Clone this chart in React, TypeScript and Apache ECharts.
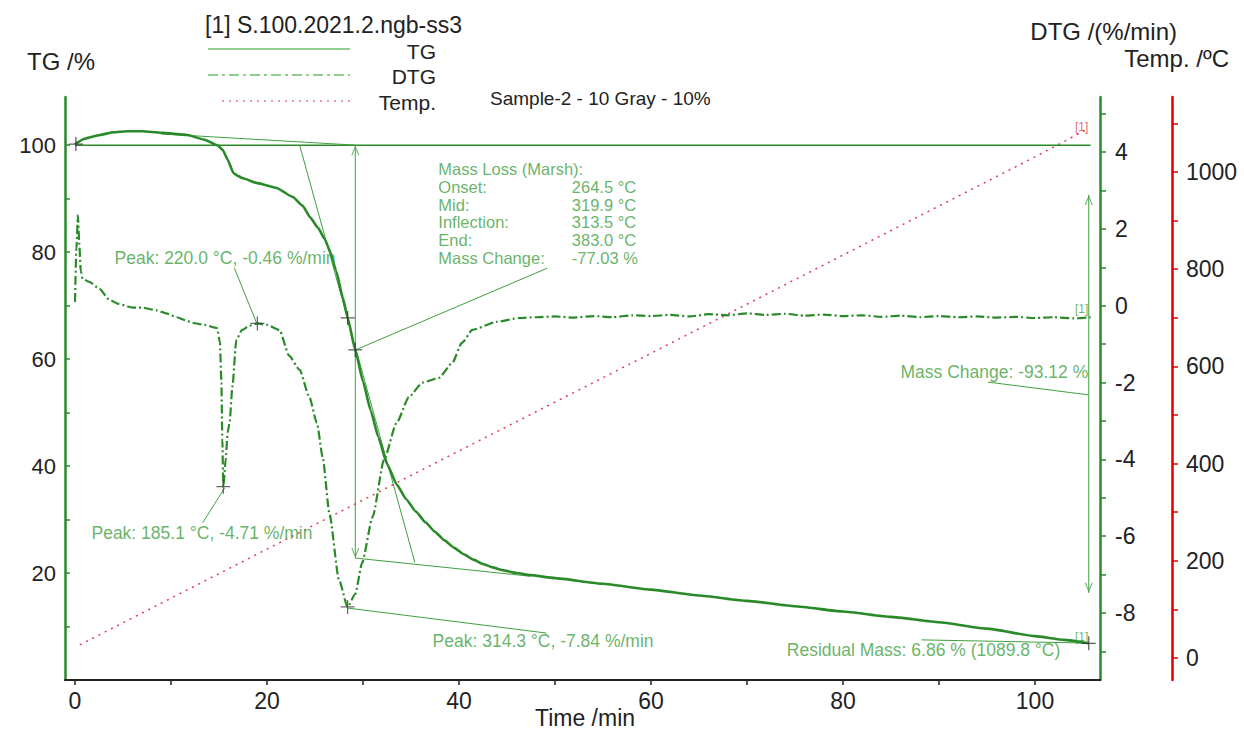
import React, { useEffect, useRef } from "react";
import * as echarts from "echarts";

// ---------------- data ----------------
const tgTime = [0, 1, 2.6, 4, 5.4, 7, 9, 11.7, 13.5, 14.8, 15.4, 15.9, 16.5, 17.0, 17.5, 19.0, 21.0, 22.7, 23.7, 24.5, 25.3, 26.0, 26.6, 27.2, 27.9, 28.4, 29.2, 30.0, 30.8, 31.6, 32.5, 33.5, 34.5, 35.5, 36.5, 37.5, 38.5, 39.5, 40.5, 41.5, 42.5, 43.5, 44.5, 46, 47.4, 50, 55, 60, 65, 70, 75, 80, 85, 90, 95, 100, 103, 105.6];
const tgValues = [100.2, 101.2, 101.9, 102.4, 102.6, 102.6, 102.3, 101.9, 101.0, 100.0, 99.1, 97.3, 94.8, 94.2, 93.8, 92.9, 92.0, 90.3, 88.7, 86.5, 84.6, 82.5, 80.0, 76.5, 71.5, 67.7, 61.7, 55.8, 50.4, 45.4, 40.4, 36.6, 33.8, 31.5, 29.5, 27.7, 26.1, 24.7, 23.5, 22.5, 21.7, 21.05, 20.55, 20.0, 19.6, 19.05, 18.0, 16.9, 15.8, 14.8, 13.8, 12.8, 11.8, 10.8, 9.6, 8.2, 7.5, 6.86];

const dtgTime = [0, 0.15, 0.3, 0.45, 0.6, 0.8, 1.5, 2.5, 3.6, 4.5, 6.0, 7.0, 8.5, 9.5, 10.6, 11.5, 12.3, 13.5, 14.8, 15.1, 15.25, 15.35, 15.45, 15.7, 15.9, 16.1, 16.4, 16.8, 17.4, 18.2, 19.0, 20.0, 21.3, 22.3, 23.4, 24.4, 25.2, 25.8, 26.5, 27.5, 28.4, 29.2, 29.9, 31.0, 32.2, 33.5, 34.8, 36.2, 37.9, 39.3, 40.3, 41.4, 43.9, 46.3, 48, 50, 52, 54, 56, 58, 60, 62, 64, 66, 68, 70, 72, 74, 76, 78, 80, 82, 84, 86, 88, 90, 92, 94, 96, 98, 100, 102, 104, 105.8];
const dtgValues = [0.1, 1.5, 2.35, 1.6, 0.9, 0.7, 0.62, 0.45, 0.15, 0.05, -0.05, -0.05, -0.12, -0.2, -0.3, -0.38, -0.45, -0.5, -0.58, -0.95, -2.0, -3.5, -4.71, -4.0, -3.3, -3.05, -2.1, -0.9, -0.63, -0.52, -0.46, -0.5, -0.63, -1.3, -1.67, -2.37, -3.05, -3.94, -5.4, -7.14, -7.84, -7.5, -6.7, -5.5, -4.0, -3.05, -2.37, -2.0, -1.88, -1.49, -0.97, -0.63, -0.42, -0.32, -0.3, -0.28, -0.31, -0.27, -0.3, -0.25, -0.27, -0.24, -0.28, -0.22, -0.25, -0.2, -0.24, -0.21, -0.26, -0.23, -0.27, -0.25, -0.29, -0.26, -0.3, -0.27, -0.3, -0.28, -0.31, -0.29, -0.32, -0.3, -0.33, -0.3];

const tempTime = [0.5, 20, 40, 60, 80, 100, 105.6];
const tempValues = [27, 224, 426, 627, 829, 1031, 1089.8];

// tick positions / labels
const xTicks = [0, 10, 20, 30, 40, 50, 60, 70, 80, 90, 100];
const xLabels = [0, 20, 40, 60, 80, 100];
const tgTicks = [10, 20, 30, 40, 50, 60, 70, 80, 90, 100];
const tgLabels = [20, 40, 60, 80, 100];
const dtgTicks = [-9, -8, -7, -6, -5, -4, -3, -2, -1, 0, 1, 2, 3, 4, 5];
const dtgLabels = [-8, -6, -4, -2, 0, 2, 4];
const tempTicks = [0, 100, 200, 300, 400, 500, 600, 700, 800, 900, 1000, 1100];
const tempLabels = [0, 200, 400, 600, 800, 1000];

// evaluation annotations (data coordinates)
const tgRefLine = [[0, 100], [105.8, 100]];
const onsetBaseLine = [[9, 102.1], [29.2, 100]];
const inflectionTangent = [[23.4, 100], [35.4, 22.0]];
const endBaseLine = [[29.2, 22.8], [47.4, 19.4]];
const massArrow1 = [[29.2, 100], [29.2, 22.8]];
const massLeader1 = [[29.2, 61.7], [49.2, 77.0]];
const massArrow2 = [[105.6, 90.7], [105.6, 16.3]];
const massLeader2 = [[95.1, 55.7], [105.6, 53.3]];
const residualLine = [[88.2, 7.5], [105.6, 6.9]];
const peakLeader220 = [[16.6, 0.98], [19.0, -0.5]];
const peakLeader185 = [[13.3, -5.65], [15.6, -4.74]];
const peakLeader314 = [[28.4, -7.87], [49.1, -8.52]];
const tgCrosses = [[0.1, 100.2], [28.4, 67.7], [29.2, 61.7], [105.6, 6.86]];
const dtgCrosses = [[15.45, -4.71], [19.0, -0.46], [28.4, -7.84]];

const marshLabels = ["Mass Loss (Marsh):", "Onset:", "Mid:", "Inflection:", "End:", "Mass Change:"];
const marshValues = ["", "264.5 °C", "319.9 °C", "313.5 °C", "383.0 °C", "-77.03 %"];
const marshRowsTG = [95.5, 92.15, 88.8, 85.45, 82.1, 78.75];

// ---------------- styling ----------------
const FONT = "'Liberation Sans', Arial, sans-serif";
const GREEN = "#2a8a2a";
const ANNO = "#3f9f3f";
const AXIS_TXT = "#222";
const VPATH = "path://M0,0 L5,10 L10,0 L8.6,0 L5,7.4 L1.4,0 Z";
const PLUS = "path://M4.55,0 H5.45 V10 H4.55 Z M0,4.55 H10 V5.45 H0 Z";

const zip = (a: number[], b: number[]) => a.map((v, i) => [v, b[i]]);
const plain = (v: number) => String(v);

const seg = (pts: number[][], yIdx: number, color = ANNO, width = 1) => ({
  type: "line",
  xAxisIndex: 0,
  yAxisIndex: yIdx,
  data: pts,
  symbol: "none",
  showSymbol: false,
  silent: true,
  lineStyle: { color, width },
  z: 4,
});

const txt = (text: string, x: number, y: number, align = "left", size = 17.5, color = ANNO) => ({
  value: [x, y],
  label: {
    show: true,
    formatter: text,
    position: [0, 0],
    align,
    verticalAlign: "middle",
    fontSize: size,
    fontFamily: FONT,
    color,
  },
});

const textSeries = (yIdx: number, data: any[]) => ({
  type: "scatter",
  xAxisIndex: 0,
  yAxisIndex: yIdx,
  symbol: "circle",
  symbolSize: 1,
  itemStyle: { color: "rgba(0,0,0,0)" },
  silent: true,
  z: 6,
  data,
});

export default function App() {
  const ref = useRef<HTMLDivElement>(null);

  useEffect(() => {
    if (!ref.current) return;
    const chart = echarts.init(ref.current, undefined, { renderer: "svg" });

    const tgTextData = [
      ...marshLabels.map((l, i) => txt(l, 37.9, marshRowsTG[i], "left", 16.5)),
      ...marshValues.filter((v) => v).map((v, i) => txt(v, 51.8, marshRowsTG[i + 1], "left", 16.5)),
      txt("Residual Mass: 6.86 % (1089.8 °C)", 74.2, 5.6),
      txt("Mass Change: -93.12 %", 105.6, 57.4, "right"),
      txt("[1]", 104.9, 8.0, "center", 12),
    ];
    const dtgTextData = [
      txt("Peak: 220.0 °C, -0.46 %/min", 4.17, 1.24),
      txt("Peak: 185.1 °C, -4.71 %/min", 1.77, -5.92),
      txt("Peak: 314.3 °C, -7.84 %/min", 37.3, -8.73),
      txt("[1]", 104.9, -0.11, "center", 12),
    ];
    const tempTextData = [txt("[1]", 104.9, 1092, "center", 12, "#e04050")];

    const arrowData = [
      { value: massArrow1[0], symbolRotate: 180, symbolOffset: [0, "50%"] },
      { value: massArrow1[1], symbolRotate: 0, symbolOffset: [0, "-50%"] },
      { value: massArrow2[0], symbolRotate: 180, symbolOffset: [0, "50%"] },
      { value: massArrow2[1], symbolRotate: 0, symbolOffset: [0, "-50%"] },
    ];

    const option: any = {
      animation: false,
      backgroundColor: "#ffffff",
      grid: { left: 65, right: 144, top: 97, bottom: 52, containLabel: false },
      xAxis: {
        type: "value",
        min: -1.04,
        max: 106.77,
        axisLine: { show: true, onZero: false, lineStyle: { color: "#222", width: 2 } },
        axisTick: { show: true, customValues: xTicks, length: 5, lineStyle: { color: "#222", width: 1.5 } },
        axisLabel: { customValues: xLabels, formatter: plain, fontSize: 23, color: AXIS_TXT, fontFamily: FONT, margin: 9 },
        splitLine: { show: false },
      },
      yAxis: [
        {
          type: "value",
          position: "left",
          min: 0,
          max: 109,
          axisLine: { show: true, onZero: false, lineStyle: { color: GREEN, width: 2.5 } },
          axisTick: { show: true, inside: true, customValues: tgTicks, length: 5, lineStyle: { color: GREEN, width: 1.5 } },
          axisLabel: { customValues: tgLabels, formatter: plain, fontSize: 22, color: AXIS_TXT, fontFamily: FONT, margin: 9 },
          splitLine: { show: false },
        },
        {
          type: "value",
          position: "right",
          min: -9.742,
          max: 5.432,
          axisLine: { show: true, onZero: false, lineStyle: { color: GREEN, width: 2.5 } },
          axisTick: { show: true, customValues: dtgTicks, length: 6, lineStyle: { color: GREEN, width: 1.5 } },
          axisLabel: { customValues: dtgLabels, formatter: plain, fontSize: 23, color: AXIS_TXT, fontFamily: FONT, margin: 15 },
          splitLine: { show: false },
        },
        {
          type: "value",
          position: "right",
          offset: 72,
          min: -45.3,
          max: 1154.3,
          axisLine: { show: true, onZero: false, lineStyle: { color: "#e00000", width: 2.5 } },
          axisTick: { show: true, customValues: tempTicks, length: 6, lineStyle: { color: "#e00000", width: 1.5 } },
          axisLabel: { customValues: tempLabels, formatter: plain, fontSize: 23, color: AXIS_TXT, fontFamily: FONT, margin: 14 },
          splitLine: { show: false },
        },
      ],
      series: [
        {
          name: "Temp.",
          type: "line",
          yAxisIndex: 2,
          data: zip(tempTime, tempValues),
          symbol: "none",
          silent: true,
          lineStyle: { color: "#e23a5a", width: 1.5, type: [2, 5] },
          z: 2,
        },
        seg(tgRefLine, 0, GREEN, 1.5),
        seg(onsetBaseLine, 0),
        seg(inflectionTangent, 0),
        seg(endBaseLine, 0),
        seg(massArrow1, 0),
        seg(massLeader1, 0),
        seg(massArrow2, 0),
        seg(massLeader2, 0),
        seg(residualLine, 0),
        seg(peakLeader220, 1),
        seg(peakLeader185, 1),
        seg(peakLeader314, 1),
        {
          name: "DTG",
          type: "line",
          yAxisIndex: 1,
          data: zip(dtgTime, dtgValues),
          symbol: "none",
          silent: true,
          smooth: 0.2,
          smoothMonotone: "x",
          lineStyle: { color: GREEN, width: 2.2, type: [9, 3, 2, 3] },
          z: 3,
        },
        {
          name: "TG",
          type: "line",
          yAxisIndex: 0,
          data: zip(tgTime, tgValues),
          symbol: "none",
          silent: true,
          smooth: 0.15,
          smoothMonotone: "x",
          lineStyle: { color: GREEN, width: 2.6 },
          z: 5,
        },
        {
          type: "scatter",
          yAxisIndex: 0,
          symbol: VPATH,
          symbolSize: [8, 10],
          itemStyle: { color: ANNO },
          silent: true,
          z: 6,
          data: arrowData,
        },
        {
          type: "scatter",
          yAxisIndex: 0,
          symbol: PLUS,
          symbolSize: 14,
          itemStyle: { color: "#333" },
          silent: true,
          z: 7,
          data: tgCrosses,
        },
        {
          type: "scatter",
          yAxisIndex: 1,
          symbol: PLUS,
          symbolSize: 14,
          itemStyle: { color: "#444" },
          silent: true,
          z: 7,
          data: dtgCrosses,
        },
        textSeries(0, tgTextData),
        textSeries(1, dtgTextData),
        textSeries(2, tempTextData),
      ],
      graphic: [
        { type: "text", style: { text: "[1] S.100.2021.2.ngb-ss3", x: 205, y: 25, font: `23px ${FONT}`, fill: "#222", textVerticalAlign: "middle" } },
        { type: "line", shape: { x1: 208, y1: 49, x2: 350, y2: 49 }, style: { stroke: "#6cbf6c", lineWidth: 1.5 } },
        { type: "line", shape: { x1: 208, y1: 75, x2: 350, y2: 75 }, style: { stroke: "#8fcf8f", lineWidth: 2, lineDash: [10, 4, 3, 4] } },
        { type: "line", shape: { x1: 222, y1: 101, x2: 350, y2: 101 }, style: { stroke: "#e07888", lineWidth: 1.5, lineDash: [2, 5] } },
        { type: "text", style: { text: "TG", x: 436, y: 51, font: `21px ${FONT}`, fill: "#222", textAlign: "right", textVerticalAlign: "middle" } },
        { type: "text", style: { text: "DTG", x: 436, y: 76, font: `21px ${FONT}`, fill: "#222", textAlign: "right", textVerticalAlign: "middle" } },
        { type: "text", style: { text: "Temp.", x: 436, y: 102, font: `21px ${FONT}`, fill: "#222", textAlign: "right", textVerticalAlign: "middle" } },
        { type: "text", style: { text: "Sample-2 - 10 Gray - 10%", x: 490, y: 98, font: `19px ${FONT}`, fill: "#222", textVerticalAlign: "middle" } },
        { type: "text", style: { text: "TG /%", x: 27, y: 61, font: `24px ${FONT}`, fill: "#222", textVerticalAlign: "middle" } },
        { type: "text", style: { text: "DTG /(%/min)", x: 1177, y: 31, font: `24px ${FONT}`, fill: "#222", textAlign: "right", textVerticalAlign: "middle" } },
        { type: "text", style: { text: "Temp. /ºC", x: 1229, y: 58, font: `24px ${FONT}`, fill: "#222", textAlign: "right", textVerticalAlign: "middle" } },
        { type: "text", style: { text: "Time /min", x: 585, y: 718, font: `23px ${FONT}`, fill: "#222", textAlign: "center", textVerticalAlign: "middle" } },
      ],
    };

    chart.setOption(option);
    return () => chart.dispose();
  }, []);

  return <div ref={ref} style={{ position: "fixed", left: 0, top: 0, width: 1244, height: 732 }} />;
}
